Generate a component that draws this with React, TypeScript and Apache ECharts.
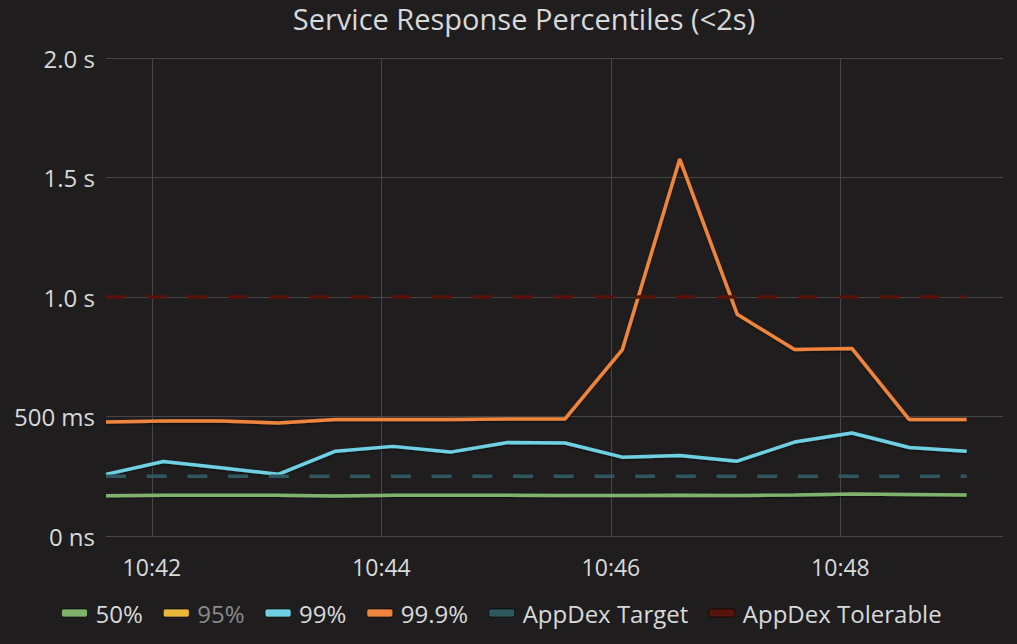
import React, { useEffect, useRef } from "react";
import * as echarts from "echarts";

// Sample times (every 30 s)
const times = [
  "10:41:36", "10:42:06", "10:42:36", "10:43:06", "10:43:36", "10:44:06",
  "10:44:36", "10:45:06", "10:45:36", "10:46:06", "10:46:36", "10:47:06",
  "10:47:36", "10:48:06", "10:48:36", "10:49:06",
];
const axisStart = "10:41:36";
const axisEnd = "10:49:25";

// Values in seconds
const p50 = [0.168, 0.17, 0.171, 0.171, 0.167, 0.17, 0.17, 0.17, 0.169, 0.169, 0.171, 0.169, 0.172, 0.176, 0.174, 0.172];
const p95: number[] = [];
const p99 = [0.258, 0.312, 0.286, 0.258, 0.355, 0.375, 0.351, 0.391, 0.389, 0.33, 0.337, 0.313, 0.393, 0.431, 0.37, 0.355];
const p999 = [0.477, 0.481, 0.481, 0.473, 0.487, 0.487, 0.487, 0.49, 0.49, 0.78, 1.577, 0.928, 0.78, 0.785, 0.487, 0.487];
const appdexTarget = [0.25, 0.25, 0.25, 0.25, 0.25, 0.25, 0.25, 0.25, 0.25, 0.25, 0.25, 0.25, 0.25, 0.25, 0.25, 0.25];
const appdexTolerable = [1, 1, 1, 1, 1, 1, 1, 1, 1, 1, 1, 1, 1, 1, 1, 1];

const yMin = 0;
const yMax = 2;
const yStep = 0.5;

const seriesNames = ["50%", "95%", "99%", "99.9%", "AppDex Target", "AppDex Tolerable"];
const seriesColors = ["#7eb26d", "#eab839", "#6ed0e0", "#ef843c", "#2f575e", "#58140c"];
const seriesValues = [p50, p95, p99, p999, appdexTarget, appdexTolerable];
const dashedSeries = ["AppDex Target", "AppDex Tolerable"];
const hiddenLegendText = ["95%"];

const toSec = (t: string) => {
  const [h, m, s] = t.split(":").map(Number);
  return h * 3600 + m * 60 + s;
};

const fmtTime = (v: number) => {
  const h = Math.floor(v / 3600);
  const m = Math.floor((v % 3600) / 60);
  return `${h}:${String(m).padStart(2, "0")}`;
};

const fmtDur = (v: number) => {
  if (v === 0) return "0 ns";
  if (v < 1) return `${Math.round(v * 1000)} ms`;
  return `${v.toFixed(1)} s`;
};

const FONT = "'Open Sans', 'Noto Sans', sans-serif";
const TEXT = "#d8d9da";
const BG = "#1f1d1e";
const GRID = "#464646";

export default function App() {
  const ref = useRef<HTMLDivElement>(null);

  useEffect(() => {
    document.body.style.margin = "0";
    document.body.style.background = BG;
    if (!ref.current) return;
    const chart = echarts.init(ref.current, null, { renderer: "svg" });

    const series = seriesNames.map((name, i) => {
      const dashed = dashedSeries.includes(name);
      return {
        name,
        type: "line",
        color: seriesColors[i],
        showSymbol: false,
        symbol: "none",
        data: seriesValues[i].map((v, j) => [toSec(times[j]), v]),
        lineStyle: dashed
          ? { width: 3.5, color: seriesColors[i], type: [20, 20.7], cap: "butt" }
          : {
              width: 3.5,
              color: seriesColors[i],
              shadowColor: "rgba(0,0,0,0.55)",
              shadowBlur: 2,
              shadowOffsetY: 1,
            },
        emphasis: { disabled: true },
      };
    });

    chart.setOption({
      animation: false,
      backgroundColor: BG,
      title: {
        text: "Service Response Percentiles (<2s)",
        left: 519,
        top: -1,
        textAlign: "center",
        textStyle: { color: TEXT, fontSize: 29, fontWeight: "normal", fontFamily: FONT },
      },
      grid: { left: 106, right: 14, top: 58, bottom: 108 },
      legend: {
        left: 56,
        top: 596,
        icon: "roundRect",
        itemWidth: 26,
        itemHeight: 8,
        itemGap: 20,
        itemStyle: { borderColor: "rgba(0,0,0,0.6)", borderWidth: 1 },
        textStyle: { color: TEXT, fontSize: 24, fontFamily: FONT, padding: [0, 0, 0, 3] },
        data: seriesNames.map((name) =>
          hiddenLegendText.includes(name)
            ? { name, textStyle: { color: "#8a8a8a" } }
            : { name }
        ),
      },
      xAxis: {
        type: "value",
        min: toSec(axisStart),
        max: toSec(axisEnd),
        minInterval: 120,
        maxInterval: 120,
        axisLine: { show: false },
        axisTick: { show: false },
        axisLabel: {
          color: TEXT,
          fontSize: 23,
          fontFamily: FONT,
          margin: 19,
          showMinLabel: false,
          showMaxLabel: false,
          formatter: (v: number) => fmtTime(v),
        },
        splitLine: {
          show: true,
          showMinLine: false,
          showMaxLine: false,
          lineStyle: { color: GRID, width: 1 },
        },
      },
      yAxis: {
        type: "value",
        min: yMin,
        max: yMax,
        interval: yStep,
        axisLine: { show: false },
        axisTick: { show: false },
        axisLabel: {
          color: TEXT,
          fontSize: 24,
          fontFamily: FONT,
          margin: 11,
          formatter: (v: number) => fmtDur(v),
        },
        splitLine: { show: true, lineStyle: { color: GRID, width: 1 } },
      },
      series,
    });

    return () => chart.dispose();
  }, []);

  return (
    <div
      ref={ref}
      style={{ position: "fixed", left: 0, top: 0, width: 1017, height: 644 }}
    />
  );
}
